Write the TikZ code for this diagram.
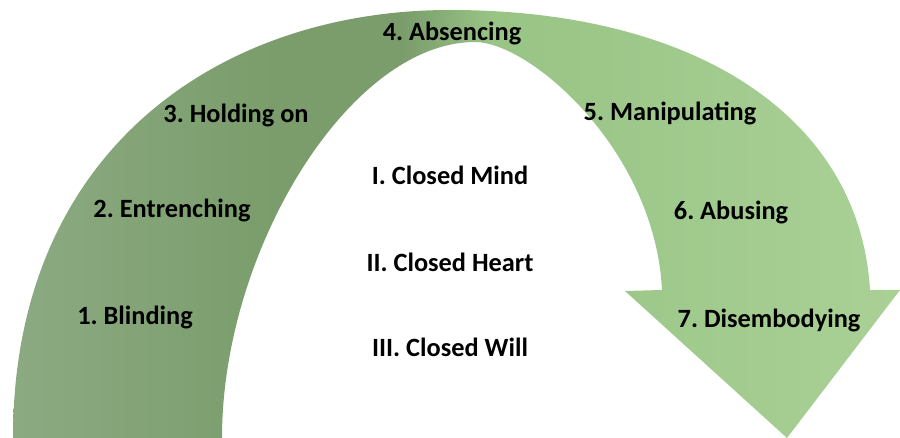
\documentclass[tikz,border=0pt]{standalone}
\usepackage{fontspec}
\setmainfont{Carlito}
\usepackage{tikz}

\definecolor{archleft}{RGB}{140,170,130}
\definecolor{archdark}{RGB}{122,157,107}
\definecolor{archmid}{RGB}{152,196,133}
\definecolor{archright}{RGB}{170,208,150}
\pgfdeclarehorizontalshading{archshade}{100bp}{color(0bp)=(archleft);
  color(25bp)=(archleft); color(40bp)=(archdark); color(47bp)=(archdark);
  color(52bp)=(archmid); color(75bp)=(archright); color(100bp)=(archright)}

\frenchspacing

\begin{document}
\begin{tikzpicture}[x=0.02cm, y=-0.02cm]
        \tikzstyle{lbl} = [text centered, inner sep=0pt,
                           font=\fontsize{15}{18}\selectfont\bfseries]
        \tikzstyle{arch} = [shading=archshade, draw=none]

        \useasboundingbox (0,0) rectangle (900,438);

        % the arch with its arrow head
        \path[arch] (13,438) .. controls (13,150) and (220,10) .. (450,10)
              .. controls (700,10) and (860,120) .. (870,290)
              -- (900,290) -- (787,438) -- (625,291) -- (662,290)
              .. controls (655,150) and (530,42) .. (475,42)
              .. controls (350,42) and (222,250) .. (222,438) -- cycle;

        \node(blind)  [lbl] at (135,317) {1. Blinding};
        \node(entr)   [lbl] at (172,210) {2. Entrenching};
        \node(hold)   [lbl] at (236,115) {3. Holding on};
        \node(absc)   [lbl] at (452,33)  {4. Absencing};
        \node(manip)  [lbl] at (670,113) {5. Manipulating};
        \node(abuse)  [lbl] at (731,212) {6. Abusing};
        \node(disemb) [lbl] at (769,320) {7. Disembodying};

        \node(mind)   [lbl] at (450,175) {I. Closed Mind};
        \node(heart)  [lbl, below of=mind, node distance=1.74cm] {II. Closed Heart};
        \node(will)   [lbl, below of=heart, node distance=1.7cm] {III. Closed Will};
      \end{tikzpicture}
\end{document}
